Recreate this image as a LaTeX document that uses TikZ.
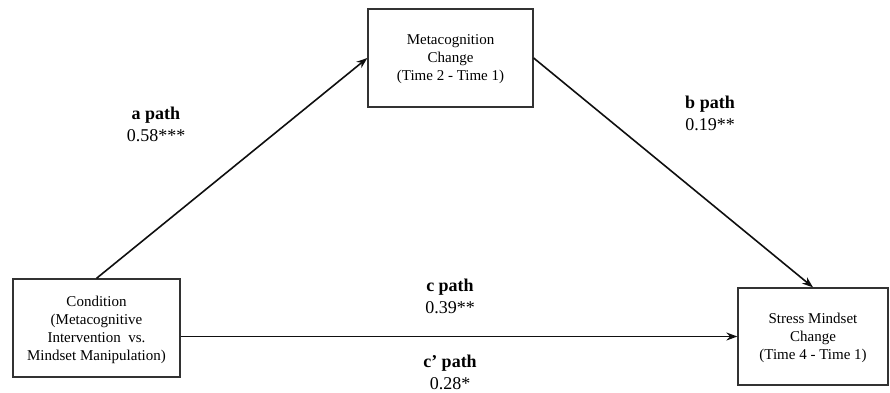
\documentclass[tikz,border=0pt]{standalone}
\usepackage{fontspec}
\setmainfont{Liberation Serif}
\usetikzlibrary{arrows.meta, positioning}
\definecolor{boxgray}{RGB}{50,50,50}
\definecolor{arrowblack}{RGB}{15,15,15}
\tikzset{
  varbox/.style={rectangle, draw=boxgray, line width=1.3pt, align=center,
    font=\fontsize{15}{18}\selectfont, inner sep=2pt, text depth=-12pt},
  patharrow/.style={-{Stealth[length=11pt, width=8pt]}, line width=1.6pt,
    color=arrowblack},
  pathlabel/.style={align=center, font=\fontsize{18}{22}\selectfont},
}
\begin{document}
\begin{tikzpicture}[x=1pt, y=-1pt]
  \useasboundingbox (0,0) rectangle (890,392);

  % Variables
  \node[varbox, minimum width=167pt, minimum height=98pt] (cond) at (96.5,328)
    {Condition\\(Metacognitive\\Intervention\ \ vs.\\Mindset Manipulation)};
  \node[varbox, minimum width=165pt, minimum height=98pt] (meta) at (450.5,58)
    {Metacognition\\Change\\(Time 2 - Time 1)};
  \node[varbox, minimum width=150pt, minimum height=97pt] (stress) at (813,336.5)
    {Stress Mindset\\Change\\(Time 4 - Time 1)};

  % Paths
  \draw[patharrow] (cond.north) -- (meta.west);
  \draw[patharrow] (meta.east) -- (stress.north);
  \draw[patharrow] (cond.east |- stress.west) -- (stress.west);

  % Coefficients
  \node[pathlabel] (alabel) at (156,124) {\textbf{a path}\\0.58***};
  \node[pathlabel] (blabel) at (710,113) {\textbf{b path}\\0.19**};
  \node[pathlabel] (clabel) at (450,296) {\textbf{c path}\\0.39**};
  \node[pathlabel] (cplabel) at (450,372) {\textbf{c’ path}\\0.28*};
\end{tikzpicture}
\end{document}
